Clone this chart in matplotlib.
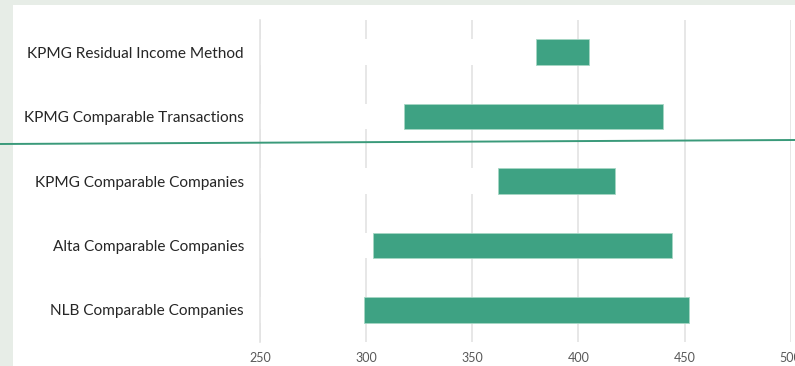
import matplotlib.pyplot as plt
from matplotlib.lines import Line2D
from matplotlib.patches import Rectangle
import numpy as np

# valuation ranges, top to bottom as shown
methods = [
    "KPMG Residual Income Method",
    "KPMG Comparable Transactions",
    "KPMG Comparable Companies",
    "Alta Comparable Companies",
    "NLB Comparable Companies",
]
low = [380, 318, 362, 303, 299]
high = [405, 440, 417, 444, 452]
x_ticks = [250, 300, 350, 400, 450, 500]

GREEN = "#3ea283"
GRID = "#e3e3e3"

plt.rcParams["font.family"] = ["Lato", "DejaVu Sans"]

fig = plt.figure(figsize=(7.95, 3.66), dpi=100)
fig.patch.set_facecolor("#e7ede7")
fig.patches.append(
    Rectangle((13 / 795, 0), 1, 1 - 5 / 366, transform=fig.transFigure,
              facecolor="white", edgecolor="none", zorder=-10)
)

ax = fig.add_axes([260 / 795, 1 - 342 / 366, 530.7 / 795, 322 / 366])
ax.set_facecolor("none")

y = np.arange(len(methods))
lo = np.array(low)
hi = np.array(high)

# white base bar hides the grid left of each range, like the stacked original
ax.barh(y, lo, height=0.4, color="white", zorder=2)
ax.barh(y, hi - lo, left=lo, height=0.4, color=GREEN,
        edgecolor="#a6d6c4", linewidth=0.6, zorder=3)

ax.set_xlim(250, 500)
ax.set_ylim(len(methods) - 0.5, -0.5)
ax.set_xticks(x_ticks)
ax.set_xticklabels([str(t) for t in x_ticks])
ax.set_yticks(y)
ax.set_yticklabels(methods)

ax.grid(axis="x", color=GRID, linewidth=1.2, zorder=1)
ax.set_axisbelow(True)
for side in ["top", "right", "bottom"]:
    ax.spines[side].set_visible(False)
ax.spines["left"].set_color(GRID)
ax.spines["left"].set_linewidth(1.2)
ax.spines["left"].set_zorder(4)

ax.tick_params(axis="both", length=0)
ax.tick_params(axis="x", labelsize=9, labelcolor="#595959", pad=7)
ax.tick_params(axis="y", labelsize=11.1, labelcolor="#262626", pad=11.5)

# green divider drawn across the slide
fig.add_artist(Line2D([0, 1], [1 - 144 / 366, 1 - 140 / 366],
                      transform=fig.transFigure, color="#3a9a7a", linewidth=1.4))

fig.savefig("out.png", dpi=100)
